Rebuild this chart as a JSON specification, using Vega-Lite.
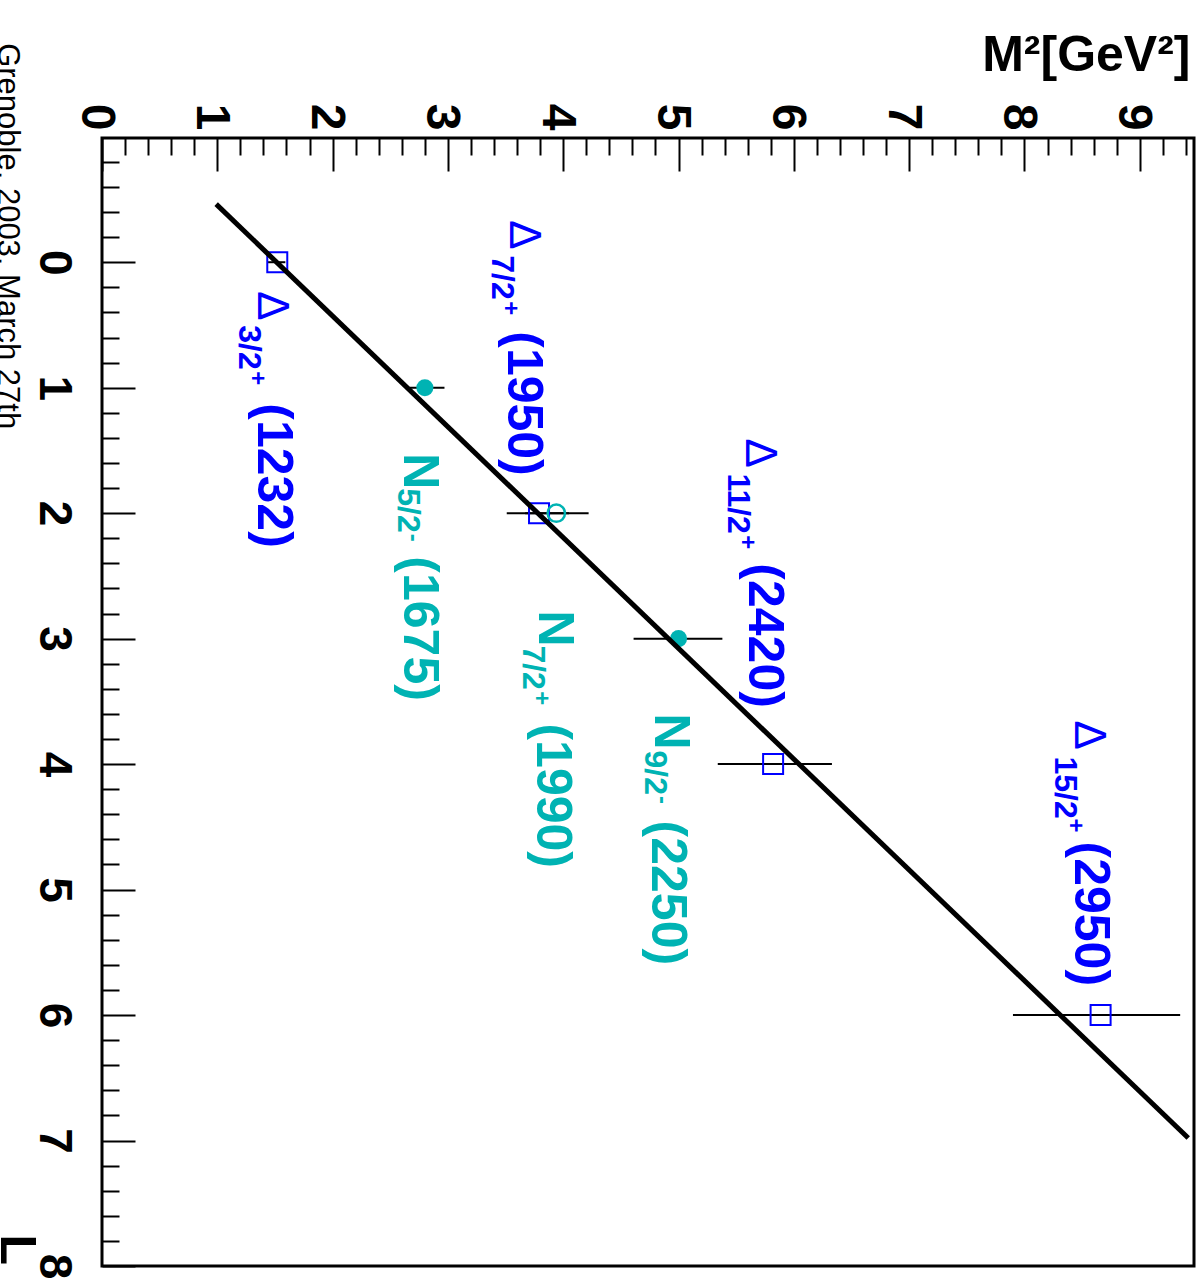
{
  "$schema": "https://vega.github.io/schema/vega-lite/v6.json",
  "width": 1092,
  "height": 1128,
  "autosize": {"type": "none"},
  "padding": {"left": 102, "top": 138, "right": 6, "bottom": 17},
  "background": "white",
  "config": {"view": {"stroke": "black", "strokeWidth": 3}, "font": "Liberation Sans"},
  "datasets": {
    "points": [
      {"name": "Δ3/2+(1232)", "family": "Delta", "m2": 1.52, "L": 0, "lo": 1.44, "hi": 1.59},
      {"name": "N5/2-(1675)", "family": "N", "m2": 2.80, "L": 1, "lo": 2.67, "hi": 2.97},
      {"name": "Δ7/2+(1950)", "family": "Delta", "m2": 3.79, "L": 2, "lo": 3.51, "hi": 4.22},
      {"name": "N7/2+(1990)", "family": "N", "m2": 3.94, "L": 2, "lo": 3.67, "hi": 4.05},
      {"name": "N9/2-(2250)", "family": "N", "m2": 5.00, "L": 3, "lo": 4.61, "hi": 5.38},
      {"name": "Δ11/2+(2420)", "family": "Delta", "m2": 5.82, "L": 4, "lo": 5.34, "hi": 6.33},
      {"name": "Δ15/2+(2950)", "family": "Delta", "m2": 8.66, "L": 6, "lo": 7.90, "hi": 9.35}
    ],
    "fit": [
      {"m2": 0.99, "L": -0.463},
      {"m2": 9.42, "L": 6.98}
    ],
    "labels": [
      {"id": "D1232", "family": "Delta", "role": "delta", "t": "Δ", "m2": 1.349, "L": 0.231},
      {"id": "D1232", "family": "Delta", "role": "sub", "t": "3/2", "m2": 1.184, "L": 0.502},
      {"id": "D1232", "family": "Delta", "role": "sup", "t": "+", "m2": 1.280, "L": 0.869},
      {"id": "D1232", "family": "Delta", "role": "mass", "t": "(1232)", "m2": 1.349, "L": 1.124},
      {"id": "N1675", "family": "N", "role": "letter", "t": "N", "m2": 2.615, "L": 1.523},
      {"id": "N1675", "family": "N", "role": "sub", "t": "5/2", "m2": 2.563, "L": 1.802},
      {"id": "N1675", "family": "N", "role": "sup", "t": "-", "m2": 2.634, "L": 2.165},
      {"id": "N1675", "family": "N", "role": "mass", "t": "(1675)", "m2": 2.615, "L": 2.344},
      {"id": "D1950", "family": "Delta", "role": "delta", "t": "Δ", "m2": 3.534, "L": -0.335},
      {"id": "D1950", "family": "Delta", "role": "sub", "t": "7/2", "m2": 3.378, "L": -0.056},
      {"id": "D1950", "family": "Delta", "role": "sup", "t": "+", "m2": 3.481, "L": 0.311},
      {"id": "D1950", "family": "Delta", "role": "mass", "t": "(1950)", "m2": 3.517, "L": 0.550},
      {"id": "N1990", "family": "N", "role": "letter", "t": "N", "m2": 3.794, "L": 2.775},
      {"id": "N1990", "family": "N", "role": "sub", "t": "7/2", "m2": 3.65, "L": 3.054},
      {"id": "N1990", "family": "N", "role": "sup", "t": "+", "m2": 3.75, "L": 3.42},
      {"id": "N1990", "family": "N", "role": "mass", "t": "(1990)", "m2": 3.77, "L": 3.676},
      {"id": "N2250", "family": "N", "role": "letter", "t": "N", "m2": 4.80, "L": 3.596},
      {"id": "N2250", "family": "N", "role": "sub", "t": "9/2", "m2": 4.705, "L": 3.892},
      {"id": "N2250", "family": "N", "role": "sup", "t": "-", "m2": 4.80, "L": 4.255},
      {"id": "N2250", "family": "N", "role": "mass", "t": "(2250)", "m2": 4.766, "L": 4.45},
      {"id": "D2420", "family": "Delta", "role": "delta", "t": "Δ", "m2": 5.581, "L": 1.404},
      {"id": "D2420", "family": "Delta", "role": "sub", "t": "11/2", "m2": 5.425, "L": 1.683},
      {"id": "D2420", "family": "Delta", "role": "sup", "t": "+", "m2": 5.529, "L": 2.177},
      {"id": "D2420", "family": "Delta", "role": "mass", "t": "(2420)", "m2": 5.607, "L": 2.400},
      {"id": "D2950", "family": "Delta", "role": "delta", "t": "Δ", "m2": 8.434, "L": 3.652},
      {"id": "D2950", "family": "Delta", "role": "sub", "t": "15/2", "m2": 8.261, "L": 3.939},
      {"id": "D2950", "family": "Delta", "role": "sup", "t": "+", "m2": 8.374, "L": 4.434},
      {"id": "D2950", "family": "Delta", "role": "mass", "t": "(2950)", "m2": 8.434, "L": 4.617}
    ],
    "stamp": [
      {"t": "Grenoble, 2003, March 27th", "m2": -0.906, "L": -1.746}
    ]
  },
  "layer": [
    {
      "data": {"name": "points"},
      "mark": {"type": "rule", "color": "black", "strokeWidth": 2},
      "encoding": {
        "x": {
          "field": "lo", "type": "quantitative",
          "scale": {"domain": [0, 9.47], "nice": false, "zero": false},
          "axis": {
            "orient": "top",
            "values": [0,0.2,0.4,0.6,0.8,1,1.2,1.4,1.6,1.8,2,2.2,2.4,2.6,2.8,3,3.2,3.4,3.6,3.8,4,4.2,4.4,4.6,4.8,5,5.2,5.4,5.6,5.8,6,6.2,6.4,6.6,6.8,7,7.2,7.4,7.6,7.8,8,8.2,8.4,8.6,8.8,9,9.2,9.4],
            "tickCount": 200,
            "labelExpr": "abs(datum.value - round(datum.value)) < 0.01 ? format(datum.value, 'd') : ''",
            "labelAngle": 90, "labelAlign": "right", "labelBaseline": "middle",
            "labelFont": "Liberation Sans", "labelFontWeight": "bold", "labelFontSize": 48, "labelColor": "black",
            "labelPadding": 41, "labelOffset": -7, "labelFlush": false, "labelOverlap": false, "labelBound": false,
            "tickSize": {"condition": {"test": "abs(datum.value - round(datum.value)) < 0.01", "value": -33}, "value": -17},
            "tickColor": "black", "tickWidth": 2,
            "domain": false, "grid": false,
            "title": "M²[GeV²]", "titleFont": "Liberation Sans", "titleFontWeight": "bold", "titleFontSize": 50, "titleColor": "black",
            "titleAngle": 0, "titleAlign": "right", "titleBaseline": "alphabetic", "titleX": 1088, "titleY": -68
          }
        },
        "x2": {"field": "hi"},
        "y": {
          "field": "L", "type": "quantitative",
          "scale": {"domain": [-0.99, 8], "reverse": true, "nice": false, "zero": false},
          "axis": {
            "orient": "left",
            "values": [-0.8,-0.6,-0.4,-0.2,0,0.2,0.4,0.6,0.8,1,1.2,1.4,1.6,1.8,2,2.2,2.4,2.6,2.8,3,3.2,3.4,3.6,3.8,4,4.2,4.4,4.6,4.8,5,5.2,5.4,5.6,5.8,6,6.2,6.4,6.6,6.8,7,7.2,7.4,7.6,7.8,8],
            "tickCount": 200,
            "labelExpr": "abs(datum.value - round(datum.value)) < 0.01 ? format(datum.value, 'd') : ''",
            "labelAngle": 90, "labelAlign": "center", "labelBaseline": "top",
            "labelFont": "Liberation Sans", "labelFontWeight": "bold", "labelFontSize": 46, "labelColor": "black",
            "labelPadding": 60, "labelFlush": false, "labelOverlap": false, "labelBound": false,
            "tickSize": {"condition": {"test": "abs(datum.value - round(datum.value)) < 0.01", "value": -33}, "value": -17},
            "tickColor": "black", "tickWidth": 2,
            "domain": false, "grid": false,
            "title": "L", "titleFont": "Liberation Sans", "titleFontWeight": "bold", "titleFontSize": 50, "titleColor": "black",
            "titleAngle": 90, "titleAlign": "left", "titleBaseline": "alphabetic", "titleX": -102, "titleY": 1096
          }
        }
      }
    },
    {
      "data": {"name": "points"},
      "transform": [{"filter": "datum.family === 'Delta'"}],
      "mark": {"type": "point", "shape": "square", "filled": false, "stroke": "#0000ff", "strokeWidth": 2, "size": 400, "opacity": 1},
      "encoding": {
        "x": {"field": "m2", "type": "quantitative"},
        "y": {"field": "L", "type": "quantitative"}
      }
    },
    {
      "data": {"name": "points"},
      "transform": [{"filter": "datum.family === 'N' && datum.name !== 'N7/2+(1990)'"}],
      "mark": {"type": "circle", "color": "#00b3b3", "size": 290, "opacity": 1},
      "encoding": {
        "x": {"field": "m2", "type": "quantitative"},
        "y": {"field": "L", "type": "quantitative"}
      }
    },
    {
      "data": {"name": "points"},
      "transform": [{"filter": "datum.name === 'N7/2+(1990)'"}],
      "mark": {"type": "point", "shape": "circle", "filled": false, "stroke": "#00b3b3", "strokeWidth": 2.5, "size": 300, "opacity": 1},
      "encoding": {
        "x": {"field": "m2", "type": "quantitative"},
        "y": {"field": "L", "type": "quantitative"}
      }
    },
    {
      "data": {"name": "fit"},
      "mark": {"type": "line", "color": "black", "strokeWidth": 5},
      "encoding": {
        "x": {"field": "m2", "type": "quantitative"},
        "y": {"field": "L", "type": "quantitative"}
      }
    },
    {
      "data": {"name": "labels"},
      "transform": [{"filter": "datum.role === 'delta'"}],
      "mark": {"type": "text", "angle": 90, "align": "left", "baseline": "alphabetic", "font": "Liberation Sans", "fontWeight": "normal", "fontSize": 44, "color": "#0000ff"},
      "encoding": {
        "x": {"field": "m2", "type": "quantitative"},
        "y": {"field": "L", "type": "quantitative"},
        "text": {"field": "t"}
      }
    },
    {
      "data": {"name": "labels"},
      "transform": [{"filter": "datum.role === 'letter' || datum.role === 'mass'"}],
      "mark": {"type": "text", "angle": 90, "align": "left", "baseline": "alphabetic", "font": "Liberation Sans", "fontWeight": "bold", "fontSize": 50},
      "encoding": {
        "x": {"field": "m2", "type": "quantitative"},
        "y": {"field": "L", "type": "quantitative"},
        "text": {"field": "t"},
        "color": {"field": "family", "type": "nominal", "scale": {"domain": ["Delta", "N"], "range": ["#0000ff", "#00b3b3"]}, "legend": null}
      }
    },
    {
      "data": {"name": "labels"},
      "transform": [{"filter": "datum.role === 'sub'"}],
      "mark": {"type": "text", "angle": 90, "align": "left", "baseline": "alphabetic", "font": "Liberation Sans", "fontWeight": "bold", "fontSize": 32},
      "encoding": {
        "x": {"field": "m2", "type": "quantitative"},
        "y": {"field": "L", "type": "quantitative"},
        "text": {"field": "t"},
        "color": {"field": "family", "type": "nominal", "scale": {"domain": ["Delta", "N"], "range": ["#0000ff", "#00b3b3"]}, "legend": null}
      }
    },
    {
      "data": {"name": "labels"},
      "transform": [{"filter": "datum.role === 'sup'"}],
      "mark": {"type": "text", "angle": 90, "align": "left", "baseline": "alphabetic", "font": "Liberation Sans", "fontWeight": "bold", "fontSize": 24},
      "encoding": {
        "x": {"field": "m2", "type": "quantitative"},
        "y": {"field": "L", "type": "quantitative"},
        "text": {"field": "t"},
        "color": {"field": "family", "type": "nominal", "scale": {"domain": ["Delta", "N"], "range": ["#0000ff", "#00b3b3"]}, "legend": null}
      }
    },
    {
      "data": {"name": "stamp"},
      "mark": {"type": "text", "angle": 90, "align": "left", "baseline": "alphabetic", "font": "Liberation Sans", "fontSize": 31, "color": "black"},
      "encoding": {
        "x": {"field": "m2", "type": "quantitative"},
        "y": {"field": "L", "type": "quantitative"},
        "text": {"field": "t"}
      }
    }
  ]
}
